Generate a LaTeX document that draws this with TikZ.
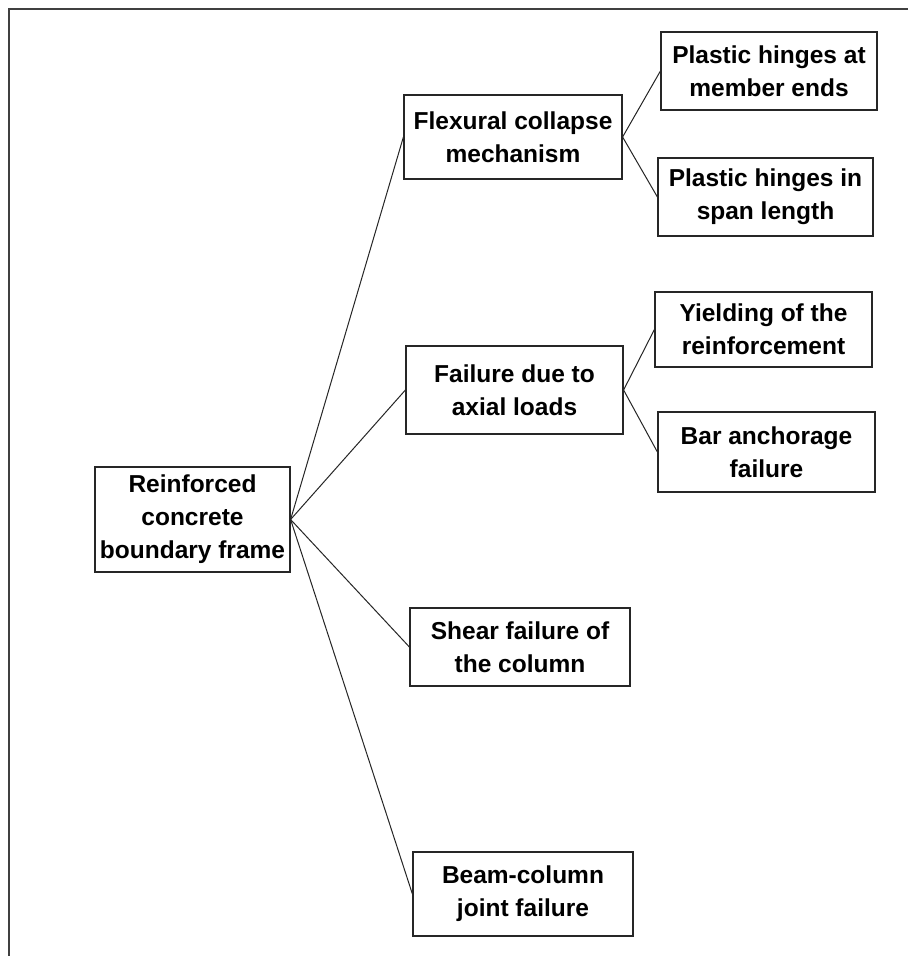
\documentclass[tikz,border=0pt]{standalone}
\usepackage{fontspec}
\setmainfont{Liberation Sans}
\begin{document}
\begin{tikzpicture}[x=1pt,y=-1pt,
  box/.style={draw=black!85, line width=1.2pt, rectangle, inner sep=0pt, align=center,
    font=\bfseries\fontsize{24.5}{33}\selectfont, text=black},
  link/.style={draw=black!85, line width=1pt}]
\useasboundingbox (0,0) rectangle (908,956);
\fill[white] (0,0) rectangle (908,956);
\draw[black!75, line width=2.2pt] (9,956) -- (9,9) -- (908,9);
\node[box, minimum width=195pt, minimum height=105pt] (root) at (192.5,519.5) {Reinforced\\concrete\\boundary frame};
\node[box, minimum width=218pt, minimum height=84pt] (flex) at (513,137) {Flexural collapse\\mechanism};
\node[box, minimum width=216pt, minimum height=78pt] (pe) at (769,71) {Plastic hinges at\\member ends};
\node[box, minimum width=215pt, minimum height=78pt] (ps) at (765.5,197) {Plastic hinges in\\span length};
\node[box, minimum width=217pt, minimum height=88pt] (axial) at (514.5,390) {Failure due to\\axial loads};
\node[box, minimum width=217pt, minimum height=75pt] (yield) at (763.5,329.5) {Yielding of the\\reinforcement};
\node[box, minimum width=217pt, minimum height=80pt] (bar) at (766.5,452) {Bar anchorage\\failure};
\node[box, minimum width=220pt, minimum height=78pt] (shear) at (520,647) {Shear failure of\\the column};
\node[box, minimum width=220pt, minimum height=84pt] (beam) at (523,894) {Beam-column\\joint failure};
\draw[link] (root.east) -- (flex.west);
\draw[link] (root.east) -- (axial.west);
\draw[link] (root.east) -- (shear.west);
\draw[link] (root.east) -- (beam.west);
\draw[link] (flex.east) -- (pe.west);
\draw[link] (flex.east) -- (ps.west);
\draw[link] (axial.east) -- (yield.west);
\draw[link] (axial.east) -- (bar.west);
\end{tikzpicture}
\end{document}
